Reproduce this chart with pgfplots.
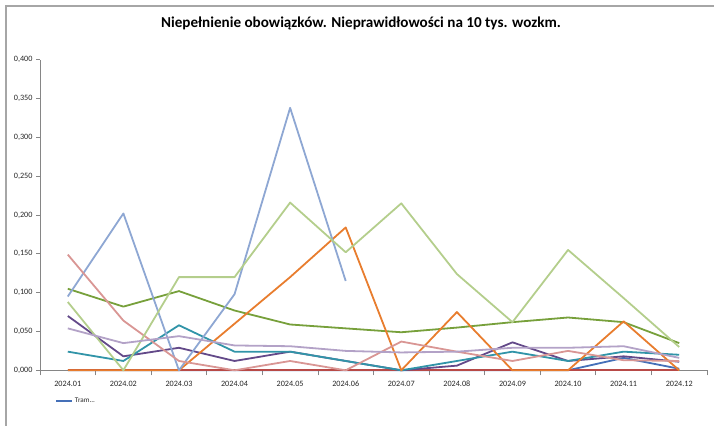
\documentclass[border=0pt]{standalone}
\usepackage{pgfplots}
\pgfplotsset{compat=1.18}
\usepackage{fontspec}
\setmainfont{Carlito}

\definecolor{cBlue}{HTML}{4570B8}
\definecolor{cRed}{HTML}{B84A47}
\definecolor{cOlive}{HTML}{77A03B}
\definecolor{cPurple}{HTML}{634989}
\definecolor{cTeal}{HTML}{3194A8}
\definecolor{cOrange}{HTML}{E87D2E}
\definecolor{cLBlue}{HTML}{8EA7D3}
\definecolor{cPink}{HTML}{D99694}
\definecolor{cLGreen}{HTML}{B4CE8C}
\definecolor{cLav}{HTML}{B3A2C7}
\definecolor{axisGray}{HTML}{868686}
\definecolor{frameGray}{HTML}{A6A6A6}
\definecolor{txt}{HTML}{262626}

\begin{document}
\begin{tikzpicture}
\begin{axis}[
  at={(40bp,55.7bp)}, anchor=south west,
  scale only axis, width=667bp, height=310.6bp,
  xmin=-0.5, xmax=11.5, ymin=0, ymax=0.4,
  axis x line*=bottom, axis y line*=left,
  axis line style={axisGray, line width=0.8bp, -},
  xtick={0,...,11},
  xticklabels={2024.01,2024.02,2024.03,2024.04,2024.05,2024.06,2024.07,2024.08,2024.09,2024.10,2024.11,2024.12},
  major x tick style={draw=none},
  minor xtick={-0.5,0.5,...,11.5},
  minor x tick style={axisGray, line width=0.8bp},
  minor tick length=5bp,
  ytick={0,0.05,...,0.4},
  major y tick style={axisGray, line width=0.8bp},
  major tick length=4bp,
  tick align=outside,
  ticklabel style={font=\fontsize{8.2}{9}\selectfont, text=txt},
  xticklabel style={yshift=-3bp},
  yticklabel style={/pgf/number format/.cd, fixed, fixed zerofill, precision=3, use comma, assume math mode=true},
  legend style={at={(15bp,-30.5bp)}, anchor=west, draw=none, fill=none,
    font=\fontsize{7.2}{8}\selectfont, text=txt, inner sep=0pt},
  legend image code/.code={\draw[#1] (0bp,0bp) -- (16bp,0bp);},
  every axis plot/.append style={line width=1.8bp, line join=round},
  clip=false,
]
\addplot[cBlue] coordinates {(0,0) (1,0) (2,0) (3,0) (4,0) (5,0) (6,0) (7,0) (8,0) (9,0) (10,0.016) (11,0.002)};
\addlegendentry{Tram...}
\addplot[cRed] coordinates {(0,0) (1,0) (2,0) (3,0) (4,0) (5,0) (6,0) (7,0) (8,0) (9,0) (10,0) (11,0)};
\addplot[cOlive] coordinates {(0,0.105) (1,0.082) (2,0.102) (3,0.077) (4,0.059) (5,0.054) (6,0.049) (7,0.055) (8,0.062) (9,0.068) (10,0.062) (11,0.035)};
\addplot[cPurple] coordinates {(0,0.070) (1,0.018) (2,0.029) (3,0.012) (4,0.024) (5,0.012) (6,0) (7,0.006) (8,0.036) (9,0.012) (10,0.018) (11,0.011)};
\addplot[cTeal] coordinates {(0,0.024) (1,0.012) (2,0.058) (3,0.024) (4,0.024) (5,0.012) (6,0) (7,0.012) (8,0.024) (9,0.012) (10,0.024) (11,0.020)};
\addplot[cOrange] coordinates {(0,0) (1,0) (2,0) (3,0.060) (4,0.120) (5,0.184) (6,0) (7,0.075) (8,0) (9,0) (10,0.063) (11,0)};
\addplot[cLBlue] coordinates {(0,0.095) (1,0.202) (2,0) (3,0.098) (4,0.338) (5,0.115)};
\addplot[cPink] coordinates {(0,0.149) (1,0.064) (2,0.012) (3,0) (4,0.012) (5,0) (6,0.037) (7,0.024) (8,0.012) (9,0.025) (10,0.013) (11,0.012)};
\addplot[cLGreen] coordinates {(0,0.088) (1,0) (2,0.120) (3,0.120) (4,0.216) (5,0.152) (6,0.215) (7,0.124) (8,0.062) (9,0.155) (10,0.093) (11,0.030)};
\addplot[cLav] coordinates {(0,0.054) (1,0.035) (2,0.044) (3,0.032) (4,0.031) (5,0.025) (6,0.023) (7,0.024) (8,0.029) (9,0.029) (10,0.031) (11,0.016)};
\end{axis}
% fixed canvas the size of the reference (1 px = 1 bp)
\pgfresetboundingbox
\useasboundingbox (0bp,0bp) rectangle (714bp,426bp);
% outer chart frame (only top and left edges visible)
\draw[frameGray, line width=1.5bp] (6bp,0bp) -- (6bp,420bp) -- (714bp,420bp);
\node[font=\fontsize{15.2}{18}\selectfont\bfseries, text=black] at (361bp,403bp)
  {Niepełnienie obowiązków. Nieprawidłowości na 10 tys. wozkm.};
\end{tikzpicture}
\end{document}
